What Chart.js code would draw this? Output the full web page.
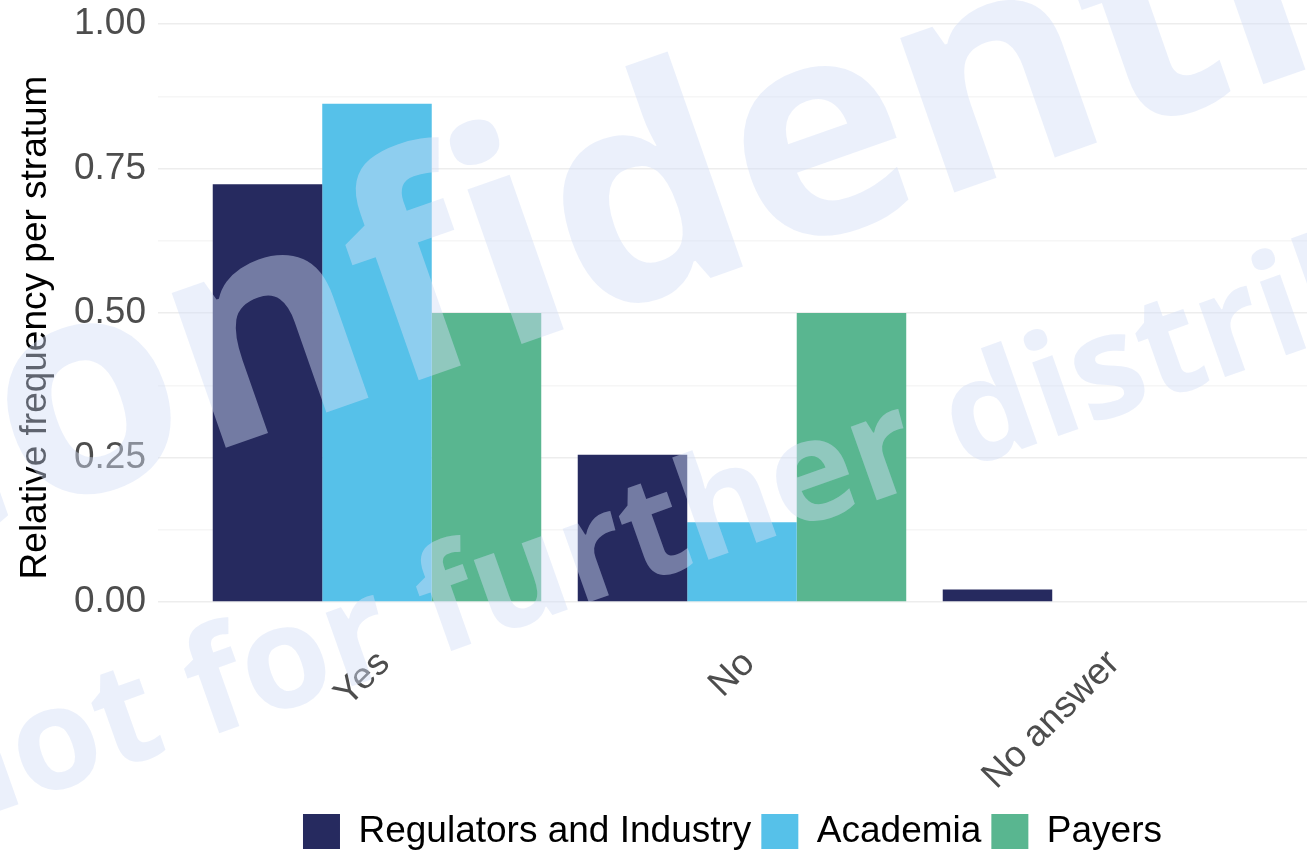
<!DOCTYPE html>
<html>
<head>
<meta charset="utf-8">
<script src="https://cdn.jsdelivr.net/npm/chart.js@4.4.1/dist/chart.umd.min.js"></script>
<style>
  html, body { margin: 0; padding: 0; background: #ffffff; }
  #wrap { width: 1307px; height: 852px; position: relative; }
</style>
</head>
<body>
<div id="wrap"><canvas id="chart"></canvas></div>
<script>
// Answer categories (x axis)
const categories = ['Yes', 'No', 'No answer'];

// Relative frequency per stratum
const regulators = [0.723, 0.255, 0.022];
const academia = [0.862, 0.138, 0];
const payers = [0.5, 0.5, 0];

const seriesNames = ['Regulators and Industry', 'Academia', 'Payers'];

// y ticks: majors get labels, the in-between ones are minor grid lines
const yTicks = [0, 0.125, 0.25, 0.375, 0.5, 0.625, 0.75, 0.875, 1];
const yMajor = [0, 0.25, 0.5, 0.75, 1];

const watermarkLines = ['Confidential', 'not for further distribution'];

const FONT = '"Liberation Sans", Arial, Helvetica, sans-serif';

// turn a series into points on the numeric x axis (category i -> i + 1)
const toPoints = vals => vals.map((v, i) => ({ x: i + 1, y: v }));

// Draw the pale watermark on top of everything
const watermark = {
    id: 'watermark',
    afterDraw(chart) {
        const ctx = chart.ctx;
        ctx.save();
        ctx.fillStyle = 'rgba(210, 221, 246, 0.45)';
        ctx.textAlign = 'left';
        ctx.textBaseline = 'alphabetic';

        ctx.save();
        ctx.translate(-152, 580);
        ctx.rotate(-19.3 * Math.PI / 180);
        ctx.font = 'bold 300px "Open Sans", sans-serif';
        ctx.fillText(watermarkLines[0], 0, 0);
        ctx.restore();

        ctx.save();
        ctx.translate(-60, 832);
        ctx.rotate(-19.5 * Math.PI / 180);
        ctx.font = 'bold 143px "Open Sans", sans-serif';
        ctx.fillText(watermarkLines[1], 0, 0);
        ctx.restore();

        ctx.restore();
    }
};

const ctx = document.getElementById('chart').getContext('2d');

new Chart(ctx, {
    type: 'bar',
    data: {
        datasets: [
            { label: seriesNames[0], data: toPoints(regulators), backgroundColor: '#262a5f' },
            { label: seriesNames[1], data: toPoints(academia), backgroundColor: '#56c1e9' },
            { label: seriesNames[2], data: toPoints(payers), backgroundColor: '#59b690' }
        ]
    },
    options: {
        responsive: true,
        maintainAspectRatio: false,
        animation: false,
        layout: { padding: { top: 24, right: 0, bottom: -8, left: 0 } },
        datasets: {
            bar: { categoryPercentage: 0.9, barPercentage: 1.0, borderWidth: 0 }
        },
        plugins: {
            legend: {
                position: 'bottom',
                fullSize: false,
                labels: {
                    boxWidth: 37,
                    boxHeight: 35,
                    padding: 10,
                    color: '#000000',
                    font: { family: FONT, size: 37 }
                }
            },
            tooltip: { enabled: false }
        },
        scales: {
            x: {
                type: 'linear',
                offset: false,
                min: 0.4,
                max: 3.548,
                grid: { display: false },
                border: { display: false },
                afterBuildTicks: scale => {
                    scale.ticks = categories.map((c, i) => ({ value: i + 1 }));
                },
                afterFit: scale => { scale.height = 172; },
                ticks: {
                    autoSkip: false,
                    minRotation: 45,
                    maxRotation: 45,
                    padding: 3,
                    labelOffset: 7,
                    color: '#4d4d4d',
                    font: { family: FONT, size: 37 },
                    callback: value => categories[value - 1]
                }
            },
            y: {
                min: -0.05,
                max: 1,
                border: { display: false },
                afterBuildTicks: scale => {
                    scale.ticks = yTicks.map(v => ({ value: v }));
                },
                afterFit: scale => { scale.width = 158; },
                grid: {
                    drawTicks: false,
                    lineWidth: 1.5,
                    color: c => yMajor.includes(c.tick.value) ? '#ededed' : '#f6f6f6'
                },
                ticks: {
                    padding: 12,
                    color: '#4d4d4d',
                    font: { family: FONT, size: 37, lineHeight: 0.6 },
                    callback: value => yMajor.includes(value) ? value.toFixed(2) : ''
                },
                title: {
                    display: true,
                    text: 'Relative frequency per stratum',
                    color: '#000000',
                    font: { family: FONT, size: 37 },
                    padding: { top: 14, bottom: 0 }
                }
            }
        }
    },
    plugins: [watermark]
});
</script>
</body>
</html>
